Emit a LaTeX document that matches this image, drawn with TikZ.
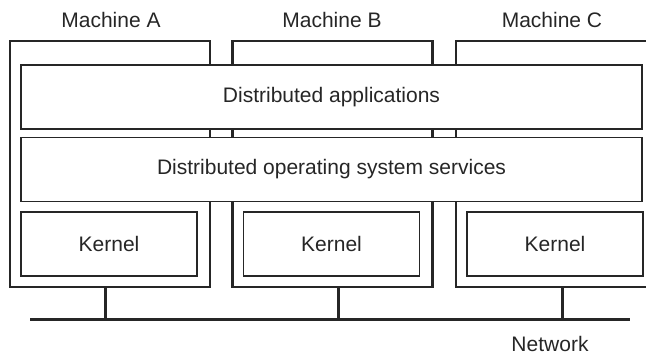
\documentclass[tikz,border=0pt]{standalone}
\usepackage{fontspec}
\setmainfont{Liberation Sans}

\begin{document}
\begin{tikzpicture}[x=1pt,y=-1pt,
    every node/.style={font=\fontsize{21}{24}\selectfont,text=black!85},
    machine/.style={draw=black!85,line width=2.2pt,minimum width=200pt,minimum height=246pt,inner sep=0pt,outer sep=0pt},
    layer/.style={draw=black!85,fill=white,line width=1.2pt,minimum width=621pt,minimum height=64pt,inner sep=0pt,outer sep=0pt},
    kernel/.style={draw=black!85,fill=white,line width=1.2pt,minimum width=176pt,minimum height=64pt,inner sep=0pt,outer sep=0pt},
    wire/.style={draw=black!85,line width=3pt}]
  \useasboundingbox (0,0) rectangle (646,355);
  % machines with their kernels
  \foreach \m/\x/\lx/\tap in {A/110/111/105,B/332.5/332/338,C/556/552/562}{
    \node[machine] (mach\m) at (\x,164) {};
    \node (lab\m) at (\lx,20) {Machine \m};
    \node[kernel] (kern\m) at (\x-1,244) {Kernel};
    \coordinate (tap\m) at (\tap,320);
  }
  % shared layers
  \node[layer] (apps) at (331.5,97) {Distributed applications};
  \node[layer] (services) at (331.5,169.5) {Distributed operating system services};
  % network
  \coordinate (netW) at (30,320);
  \coordinate (netE) at (630,320);
  \draw[wire] (netW) -- (netE);
  \foreach \m in {A,B,C}
    \draw[wire] (tap\m) -- (tap\m |- mach\m.south);
  \node (netlab) at (550,343.5) {Network};
\end{tikzpicture}
\end{document}
